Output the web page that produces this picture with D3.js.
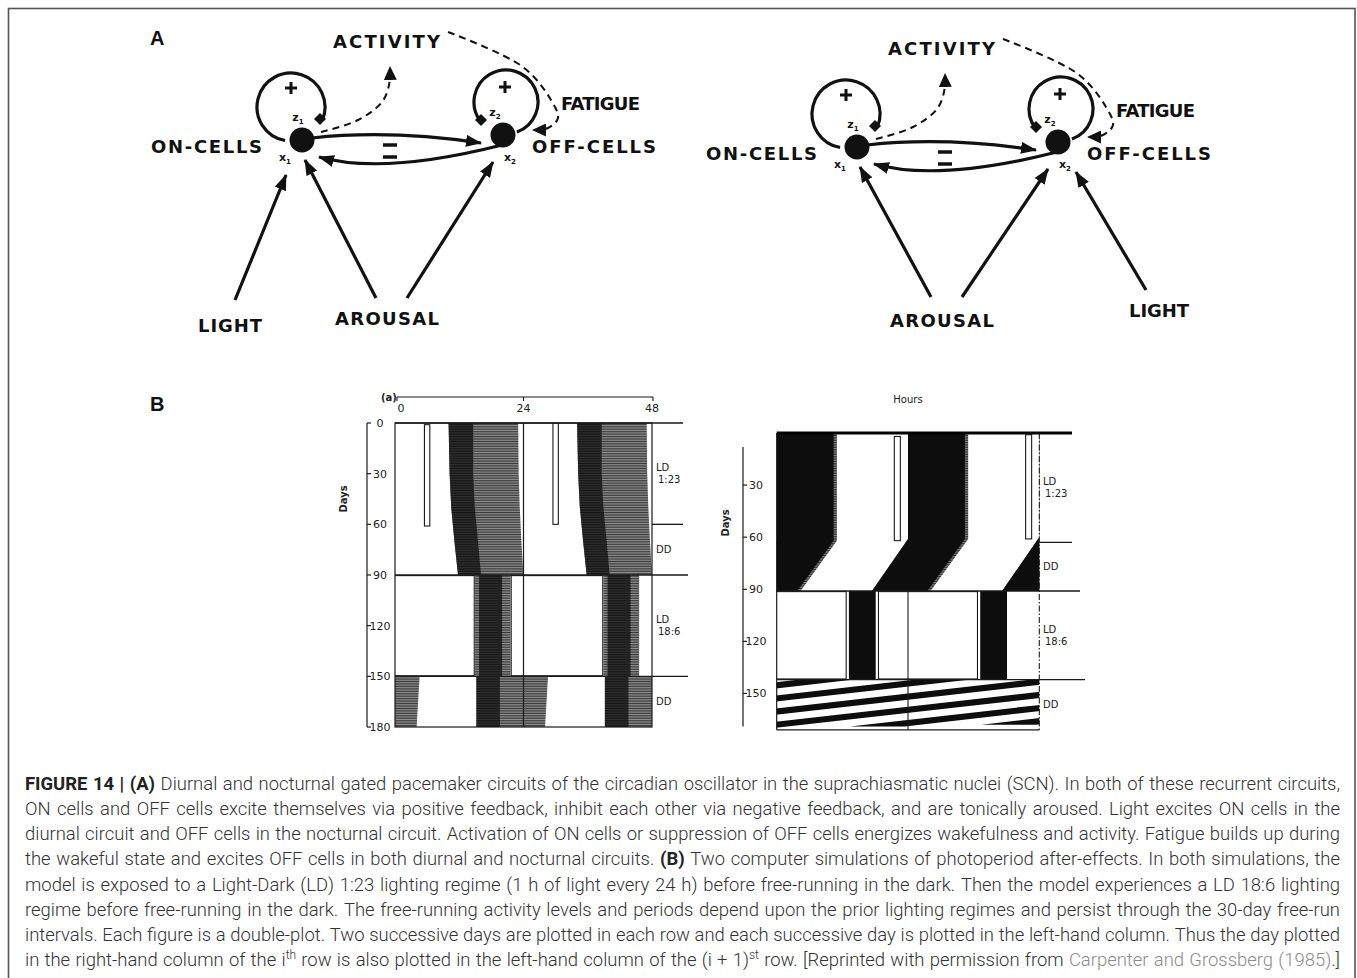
<!doctype html>
<html>
<head>
  <meta charset="UTF-8" />
  <title>Figure 14 - gated pacemaker circuits</title>
  <style>
    html, body { margin: 0; padding: 0; background: #fff; }
    svg { display: block; }
    .diag text { font-family: "DejaVu Sans", sans-serif; font-weight: bold; fill: #111; }
    .acto text { font-family: "DejaVu Sans", sans-serif; fill: #222; font-size: 10px; }
    .panel { font-family: "Liberation Sans", Arial, sans-serif; font-weight: bold; font-size: 20px; fill: #111; }
    .cap { font-family: Roboto, "Liberation Sans", sans-serif; font-weight: 300; fill: #333; }
    .cap .b { font-weight: 700; fill: #222; }
    .cap .g { fill: #8c8c8c; }
  </style>
</head>
<body>
<svg id="fig" width="1357" height="978"></svg>
<script src="https://cdn.jsdelivr.net/npm/d3@7"></script>
<script>
// ---------- panel A: circuit geometry (px, relative to the ON node x1) ----------
const circuitOrigin = [[302, 140], [857, 147]];
const nodePos = [[0, 0], [201, -5]];
const loopCentre = [[-11, -33], [204, -38]];
const loopRadius = [34, 32];
const loopSweep = [[100, 382], [70, -216]];
const gatePos = [[18, -21], [179, -20]];
const plusPos = [[-11, -52], [203, -53]];
const subLabels = [["z", "1", -4, -19], ["x", "1", -17, 21], ["z", "2", 193, -24], ["x", "2", 208, 21]];
const inhibitArrows = [
  [[10, -2], [91, -5], [179, 3]],
  [[200, 5], [95, 23], [17, 17]]
];
const minusPos = [[88, 5], [88, 17]];
const activityPath = [[19, -8], [56, -20], [80, -38], [87, -55], [88, -73]];
const fatiguePath = [[146, -108], [221, -73], [249, -40], [256, -22], [246, -12], [231, -10]];
const wordText = ["ACTIVITY", "FATIGUE", "ON-CELLS", "OFF-CELLS"];
const wordBox = [[31, 138, -92], [259, 338, -30], [-151, -40, 13], [230, 354, 13]];
const arousalTips = [[3, 20], [191, 22]];
const arousalFromX = [74, 105];
const arousalFromY = [158, 150];
const arousalLabelY = [185, 180];
const lightFrom = [[-67, 160], [289, 143]];
const lightTip = [[-16, 35], [219, 25]];
const lightBox = [[-104, -40, 192], [272, 332, 170]];

// ---------- panel B: actograms ----------
const hourTicks = [0, 24, 48];
// (a) left simulation
const dayTicksA = [0, 30, 60, 90, 120, 150, 180];
const regimeTextA = [["LD", "1:23"], ["DD"], ["LD", "18:6"], ["DD"]];
const regimeBreaksA = [0, 60, 90, 150, 180];
const pulseHoursA = [5.5, 6.5];
const pulseDaysA = [1, 61];
const runDaysA = [-1, 30, 50, 70, 91];
const runOnA = [10.0, 10.2, 10.5, 11.1, 11.8];
const runCoreA = [14.6, 14.6, 14.9, 15.5, 16.1];
const runOffA = [23.0, 23.1, 23.3, 23.6, 24.0];
const darkA = [14.8, 21.7];
const entDaysA = [89, 151];
const entOnA = [14.9, 14.9], entCoreOnA = [15.7, 15.7], entCoreOffA = [20.0, 20.0], entOffA = [21.6, 21.6];
const freeDaysA = [149, 181];
const freeOnA = [15.2, 15.2], freeCoreA = [19.6, 19.6], freeOffA = [28.6, 28.0];
// (b) right simulation
const dayTicksB = [30, 60, 90, 120, 150];
const regimeTextB = [["LD", "1:23"], ["DD"], ["LD", "18:6"], ["DD"]];
const regimeBreaksB = [0, 63, 91, 142, 171];
const pulseHoursB = [21.5, 22.6];
const pulseDaysB = [2, 62];
const runDaysB = [-1, 61, 92];
const runOnB = [24, 24, 17.2];
const runCoreB = [34.4, 34.4, 27.3];
const runOffB = [35.0, 35.0, 27.9];
const darkB = [12.7, 18.6];
const entDaysB = [90, 143];
const entOnB = [13.2, 13.2], entOffB = [18.1, 18.1];
const freeDaysB = [141, 172];
const freeOnB = [28.2, -58.6], freeOffB = [38.2, -48.6];

// ---------- caption ----------
const caption = [
  "*FIGURE 14 | (A)* Diurnal and nocturnal gated pacemaker circuits of the circadian oscillator in the suprachiasmatic nuclei (SCN). In both of these recurrent circuits,",
  "ON cells and OFF cells excite themselves via positive feedback, inhibit each other via negative feedback, and are tonically aroused. Light excites ON cells in the",
  "diurnal circuit and OFF cells in the nocturnal circuit. Activation of ON cells or suppression of OFF cells energizes wakefulness and activity. Fatigue builds up during",
  "the wakeful state and excites OFF cells in both diurnal and nocturnal circuits. *(B)* Two computer simulations of photoperiod after-effects. In both simulations, the",
  "model is exposed to a Light-Dark (LD) 1:23 lighting regime (1 h of light every 24 h) before free-running in the dark. Then the model experiences a LD 18:6 lighting",
  "regime before free-running in the dark. The free-running activity levels and periods depend upon the prior lighting regimes and persist through the 30-day free-run",
  "intervals. Each figure is a double-plot. Two successive days are plotted in each row and each successive day is plotted in the left-hand column. Thus the day plotted",
  "in the right-hand column of the i^th^ row is also plotted in the left-hand column of the (i + 1)^st^ row. [Reprinted with permission from ~Carpenter and Grossberg (1985)~.]"
];

const svg = d3.select('#fig');
const defs = svg.append('defs');

// frame
svg.append('rect').attr('x', 8.5).attr('y', 8.5).attr('width', 1346.5).attr('height', 1000)
  .attr('fill', 'none').attr('stroke', '#555').attr('stroke-width', 1.6);

svg.append('text').attr('class', 'panel').attr('x', 150).attr('y', 45).text('A');
svg.append('text').attr('class', 'panel').attr('x', 150).attr('y', 411).text('B');

// markers
function head(id, len, half) {
  defs.append('marker').attr('id', id)
    .attr('viewBox', `0 ${-half} ${len} ${half * 2}`)
    .attr('refX', len - 1).attr('refY', 0)
    .attr('markerWidth', len).attr('markerHeight', half * 2)
    .attr('markerUnits', 'userSpaceOnUse').attr('orient', 'auto')
    .append('path').attr('d', `M0,${-half}L${len},0L0,${half}Z`).attr('fill', '#111');
}
head('solidHead', 16, 6);
head('dashHead', 14, 6.5);

function stripes(id, base, line, h) {
  const p = defs.append('pattern').attr('id', id).attr('patternUnits', 'userSpaceOnUse')
    .attr('width', 8).attr('height', h);
  p.append('rect').attr('width', 8).attr('height', h).attr('fill', base);
  p.append('rect').attr('y', h * 0.6).attr('width', 8).attr('height', h * 0.4).attr('fill', line);
}
stripes('greyA', '#3a3a3a', '#a6a6a6', 1.69);
stripes('blackA', '#141414', '#383838', 1.69);
stripes('greyB', '#2a2a2a', '#9a9a9a', 1.74);

// ---------- circuits ----------
function drawCircuit(i) {
  const [ox, oy] = circuitOrigin[i];
  const px = d3.scaleLinear().domain([0, 100]).range([ox, ox + 100]);
  const py = d3.scaleLinear().domain([0, 100]).range([oy, oy + 100]);
  const P = p => [px(p[0]), py(p[1])];
  const g = svg.append('g').attr('class', 'diag');
  const ink = '#111';

  // self-excitatory loops
  loopCentre.forEach((c, j) => {
    const [a0, a1] = loopSweep[j].map(a => a * Math.PI / 180);
    const path = d3.path();
    path.arc(px(c[0]), py(c[1]), loopRadius[j], a0, a1, a1 < a0);
    g.append('path').attr('d', path.toString()).attr('fill', 'none')
      .attr('stroke', ink).attr('stroke-width', 3.2);
  });
  gatePos.forEach(p => {
    const [x, y] = P(p);
    g.append('path').attr('d', 'M0,-6L6,0L0,6L-6,0Z').attr('transform', `translate(${x},${y})`).attr('fill', ink);
  });
  plusPos.forEach(p => {
    const [x, y] = P(p);
    g.append('path').attr('d', `M${x - 6},${y}H${x + 6}M${x},${y - 6}V${y + 6}`)
      .attr('stroke', ink).attr('stroke-width', 3);
  });

  // mutual inhibition
  inhibitArrows.forEach(([s, v, e]) => {
    const c = [2 * v[0] - (s[0] + e[0]) / 2, 2 * v[1] - (s[1] + e[1]) / 2];
    const [sx, sy] = P(s), [cx, cy] = P(c), [ex, ey] = P(e);
    g.append('path').attr('d', `M${sx},${sy}Q${cx},${cy} ${ex},${ey}`)
      .attr('fill', 'none').attr('stroke', ink).attr('stroke-width', 3.2)
      .attr('marker-end', 'url(#solidHead)');
  });
  minusPos.forEach(p => {
    const [x, y] = P(p);
    g.append('path').attr('d', `M${x - 7},${y}H${x + 7}`).attr('stroke', ink).attr('stroke-width', 3.5);
  });

  // nodes
  nodePos.forEach(p => {
    const [x, y] = P(p);
    g.append('circle').attr('cx', x).attr('cy', y).attr('r', 12.5).attr('fill', ink);
  });
  subLabels.forEach(([a, n, x, y]) => {
    const t = g.append('text').attr('x', px(x)).attr('y', py(y)).attr('text-anchor', 'middle')
      .style('font-size', '11px');
    t.append('tspan').text(a);
    t.append('tspan').attr('dy', 3).style('font-size', '7px').text(n);
  });

  // dashed activity / fatigue pathways
  const line = d3.line().x(d => px(d[0])).y(d => py(d[1])).curve(d3.curveCatmullRom);
  [activityPath, fatiguePath].forEach(pts => {
    g.append('path').attr('d', line(pts)).attr('fill', 'none').attr('stroke', ink)
      .attr('stroke-width', 2).attr('stroke-dasharray', '7,5').attr('marker-end', 'url(#dashHead)');
  });

  // inputs
  const inputs = [
    [[arousalFromX[0], arousalFromY[i]], arousalTips[0]],
    [[arousalFromX[1], arousalFromY[i]], arousalTips[1]],
    [lightFrom[i], lightTip[i]]
  ];
  inputs.forEach(([s, e]) => {
    const [sx, sy] = P(s), [ex, ey] = P(e);
    g.append('line').attr('x1', sx).attr('y1', sy).attr('x2', ex).attr('y2', ey)
      .attr('stroke', ink).attr('stroke-width', 3.2).attr('marker-end', 'url(#solidHead)');
  });

  // words
  const boxes = wordBox.concat([[33, 137, arousalLabelY[i]], lightBox[i]]);
  const texts = wordText.concat(['AROUSAL', 'LIGHT']);
  boxes.forEach(([x0, x1, y], j) => {
    g.append('text').attr('x', px(x0)).attr('y', py(y))
      .attr('textLength', x1 - x0).attr('lengthAdjust', 'spacing')
      .style('font-size', '18px').text(texts[j]);
  });
}
drawCircuit(0);
drawCircuit(1);

// ---------- actograms ----------
function zip(days, lo, hi) {
  return days.map((d, i) => ({ d, lo: lo[i], hi: hi[i] }));
}

function drawActogram(o) {
  const x = d3.scaleLinear().domain([0, 48]).range(o.xRange);
  const y = d3.scaleLinear().domain(o.dayDomain).range(o.yRange);
  const g = svg.append('g').attr('class', 'acto');
  const ink = '#1a1a1a';

  o.segments.forEach((seg, si) => {
    const id = `${o.id}clip${si}`;
    defs.append('clipPath').attr('id', id).append('rect')
      .attr('x', x(0)).attr('y', y(seg.from))
      .attr('width', x(48) - x(0)).attr('height', y(seg.to) - y(seg.from));
    const sg = g.append('g').attr('clip-path', `url(#${id})`);

    // light periods of LD 18:6 shown as open boxes
    if (seg.dark) {
      d3.range(-1, 2).forEach(k => {
        const a = seg.dark[1] + 24 * (k - 1), b = seg.dark[0] + 24 * k;
        sg.append('rect').attr('x', x(a)).attr('y', y(seg.from) + 0.6)
          .attr('width', x(b) - x(a)).attr('height', y(seg.to) - y(seg.from) - 1.2)
          .attr('fill', '#fff').attr('stroke', ink).attr('stroke-width', 1.1);
      });
    }
    seg.bands.forEach(b => {
      d3.range(-4, 5).forEach(k => {
        const area = d3.area()
          .x0(r => x(r.lo + 24 * k)).x1(r => x(r.hi + 24 * k))
          .y(r => y(r.d - k));
        sg.append('path').attr('d', area(b.rows)).attr('fill', b.fill);
      });
    });
    if (seg.pulse) {
      [0, 1].forEach(k => {
        sg.append('rect').attr('x', x(seg.pulse[0] + 24 * k)).attr('y', y(seg.pulseDays[0] - k))
          .attr('width', x(seg.pulse[1]) - x(seg.pulse[0]))
          .attr('height', y(seg.pulseDays[1]) - y(seg.pulseDays[0]))
          .attr('fill', '#fff').attr('stroke', ink).attr('stroke-width', 1.1);
      });
    }
  });

  o.frame(g, x, y, ink);

  // day axis
  const ax = o.axisX;
  g.append('line').attr('x1', ax).attr('x2', ax).attr('y1', y(o.axisDays[0])).attr('y2', y(o.axisDays[1]))
    .attr('stroke', ink).attr('stroke-width', 1.2);
  const t = g.selectAll('.dtick').data(o.dayTicks).join('g').attr('class', 'dtick')
    .attr('transform', d => `translate(0,${y(d)})`);
  t.append('line').attr('x1', ax).attr('x2', ax + 4).attr('stroke', ink).attr('stroke-width', 1.2);
  t.append('text').attr('x', ax + 13).attr('dy', '0.35em').attr('text-anchor', 'middle')
    .style('font-size', '11px').text(d => d);
  g.append('text').attr('transform', `translate(${o.daysLabel[0]},${o.daysLabel[1]}) rotate(-90)`)
    .attr('text-anchor', 'middle').attr('dy', '0.35em')
    .style('font-size', '10px').style('font-weight', 'bold').text('Days');

  // regime labels
  o.regimeText.forEach((lines, j) => {
    const mid = (o.regimeBreaks[j] + o.regimeBreaks[j + 1]) / 2;
    const tx = g.append('text').attr('x', o.labelX).attr('y', y(mid))
      .style('font-size', '10px');
    lines.forEach((s, li) => {
      tx.append('tspan').attr('x', o.labelX + (li ? 2 : 0))
        .attr('dy', li ? '1.2em' : (lines.length > 1 ? '-0.25em' : '0.35em')).text(s);
    });
  });
  return { x, y, g };
}

drawActogram({
  id: 'a',
  xRange: [395, 652], dayDomain: [0, 180], yRange: [423, 727],
  axisX: 367, axisDays: [0, 180], dayTicks: dayTicksA, daysLabel: [343, 499],
  regimeText: regimeTextA, regimeBreaks: regimeBreaksA, labelX: 656,
  segments: [
    { from: 0, to: 90, pulse: pulseHoursA, pulseDays: pulseDaysA,
      bands: [{ rows: zip(runDaysA, runOnA, runOffA), fill: 'url(#greyA)' },
              { rows: zip(runDaysA, runOnA, runCoreA), fill: 'url(#blackA)' }] },
    { from: 90, to: 150, dark: darkA,
      bands: [{ rows: zip(entDaysA, entOnA, entOffA), fill: 'url(#greyA)' },
              { rows: zip(entDaysA, entCoreOnA, entCoreOffA), fill: 'url(#blackA)' }] },
    { from: 150, to: 180,
      bands: [{ rows: zip(freeDaysA, freeOnA, freeOffA), fill: 'url(#greyA)' },
              { rows: zip(freeDaysA, freeOnA, freeCoreA), fill: 'url(#blackA)' }] }
  ],
  frame(g, x, y, ink) {
    g.append('rect').attr('x', x(0)).attr('y', y(0)).attr('width', x(48) - x(0)).attr('height', y(180) - y(0))
      .attr('fill', 'none').attr('stroke', ink).attr('stroke-width', 1.2);
    g.append('line').attr('x1', x(24)).attr('x2', x(24)).attr('y1', y(0)).attr('y2', y(180))
      .attr('stroke', ink).attr('stroke-width', 1.2);
    [[0, x(0), 683], [60, x(48), 683], [90, x(0), 688], [150, x(0), 688]].forEach(([d, a, b]) => {
      g.append('line').attr('x1', a).attr('x2', b).attr('y1', y(d)).attr('y2', y(d))
        .attr('stroke', ink).attr('stroke-width', 1.3);
    });
    // hours bracket on top
    const by = 397;
    g.append('line').attr('x1', x(0) + 2).attr('x2', x(48) + 1).attr('y1', by).attr('y2', by)
      .attr('stroke', ink).attr('stroke-width', 1.1);
    const ht = g.selectAll('.htick').data(hourTicks).join('g').attr('class', 'htick');
    ht.append('line').attr('x1', d => x(d) + (d === 0 ? 2 : d === 48 ? 1 : 0))
      .attr('x2', d => x(d) + (d === 0 ? 2 : d === 48 ? 1 : 0))
      .attr('y1', by).attr('y2', by + 4).attr('stroke', ink).attr('stroke-width', 1.1);
    ht.append('text').attr('x', d => x(d) + (d === 0 ? 6 : 0)).attr('y', 412).attr('text-anchor', 'middle')
      .style('font-size', '11px').text(d => d);
    g.append('text').attr('x', 389).attr('y', 401).attr('text-anchor', 'middle')
      .style('font-size', '10px').style('font-weight', 'bold').text('(a)');
  }
});

drawActogram({
  id: 'b',
  xRange: [776.7, 1039.3], dayDomain: [0, 171], yRange: [433, 729.9],
  axisX: 743, axisDays: [8, 169], dayTicks: dayTicksB, daysLabel: [725, 523],
  regimeText: regimeTextB, regimeBreaks: regimeBreaksB, labelX: 1043,
  segments: [
    { from: 0, to: 91, pulse: pulseHoursB, pulseDays: pulseDaysB,
      bands: [{ rows: zip(runDaysB, runOnB, runOffB), fill: 'url(#greyB)' },
              { rows: zip(runDaysB, runOnB, runCoreB), fill: '#0d0d0d' }] },
    { from: 91, to: 142, dark: darkB,
      bands: [{ rows: zip(entDaysB, entOnB, entOffB), fill: '#0d0d0d' }] },
    { from: 142, to: 171,
      bands: [{ rows: zip(freeDaysB, freeOnB, freeOffB), fill: '#0d0d0d' }] }
  ],
  frame(g, x, y, ink) {
    g.append('line').attr('x1', x(0)).attr('x2', x(0)).attr('y1', y(0)).attr('y2', y(171))
      .attr('stroke', ink).attr('stroke-width', 1.2);
    g.append('line').attr('x1', x(0)).attr('x2', x(48)).attr('y1', y(171)).attr('y2', y(171))
      .attr('stroke', ink).attr('stroke-width', 1.2);
    g.append('line').attr('x1', x(48)).attr('x2', x(48)).attr('y1', y(0)).attr('y2', y(171))
      .attr('stroke', ink).attr('stroke-width', 1.1).attr('stroke-dasharray', '6,2,1.5,2');
    g.append('line').attr('x1', x(24)).attr('x2', x(24)).attr('y1', y(91)).attr('y2', y(171))
      .attr('stroke', ink).attr('stroke-width', 1.1);
    g.append('line').attr('x1', x(0)).attr('x2', 1072).attr('y1', y(0)).attr('y2', y(0))
      .attr('stroke', '#000').attr('stroke-width', 3);
    [[63, x(48), 1072], [91, x(0), 1080], [142, x(0), 1085]].forEach(([d, a, b]) => {
      g.append('line').attr('x1', a).attr('x2', b).attr('y1', y(d)).attr('y2', y(d))
        .attr('stroke', ink).attr('stroke-width', 1.3);
    });
    g.append('text').attr('x', 908).attr('y', 403).attr('text-anchor', 'middle')
      .style('font-size', '10px').text('Hours');
  }
});

// ---------- caption, justified ----------
function parseLine(s) {
  const words = [];
  let cur = [], run = null, st = { b: false, s: false, g: false };
  const push = () => { if (run && run.t) cur.push(run); run = null; };
  for (const ch of s) {
    if (ch === '*' || ch === '^' || ch === '~') {
      push();
      const key = ch === '*' ? 'b' : ch === '^' ? 's' : 'g';
      st = { ...st, [key]: !st[key] };
      continue;
    }
    if (ch === ' ') { push(); if (cur.length) words.push(cur); cur = []; continue; }
    if (!run) run = { t: '', ...st };
    run.t += ch;
  }
  push();
  if (cur.length) words.push(cur);
  return words;
}

const capG = svg.append('g').attr('class', 'cap');
const capLeft = 25, capRight = 1340, capTop = 790, capStep = 25.15;

function wordNode(runs, y, size) {
  const t = capG.append('text').attr('y', y).style('font-size', size + 'px');
  let raised = false;
  runs.forEach(r => {
    const sp = t.append('tspan').text(r.t)
      .attr('class', [r.b ? 'b' : '', r.g ? 'g' : ''].join(' ').trim() || null);
    if (r.s) {
      sp.style('font-size', (size * 0.65) + 'px');
      if (!raised) { sp.attr('dy', -size * 0.4); raised = true; }
    } else if (raised) { sp.attr('dy', size * 0.4); raised = false; }
  });
  return t;
}

// fit the font size so the widest line just fills the column, then justify
const parsed = caption.map(parseLine);
const probe = 16;
const natural = parsed.map(words => {
  const nodes = words.map(w => wordNode(w, -100, probe));
  const sp = capG.append('text').attr('y', -100).style('font-size', probe + 'px').text('a a');
  const spaceW = sp.node().getComputedTextLength() - 2 * capG.append('text').attr('y', -100)
    .style('font-size', probe + 'px').text('a').node().getComputedTextLength();
  const w = d3.sum(nodes, n => n.node().getComputedTextLength()) + spaceW * (words.length - 1);
  return w;
});
capG.selectAll('text').remove();
const capSize = probe * (capRight - capLeft) / d3.max(natural) * 0.997;

parsed.forEach((words, li) => {
  const items = words.map(runs => {
    const t = wordNode(runs, capTop + li * capStep, capSize);
    return { t, w: t.node().getComputedTextLength() };
  });
  const total = d3.sum(items, d => d.w);
  const gap = (capRight - capLeft - total) / (items.length - 1);
  let xPos = capLeft;
  items.forEach(it => { it.t.attr('x', xPos); xPos += it.w + gap; });
});
</script>
</body>
</html>
